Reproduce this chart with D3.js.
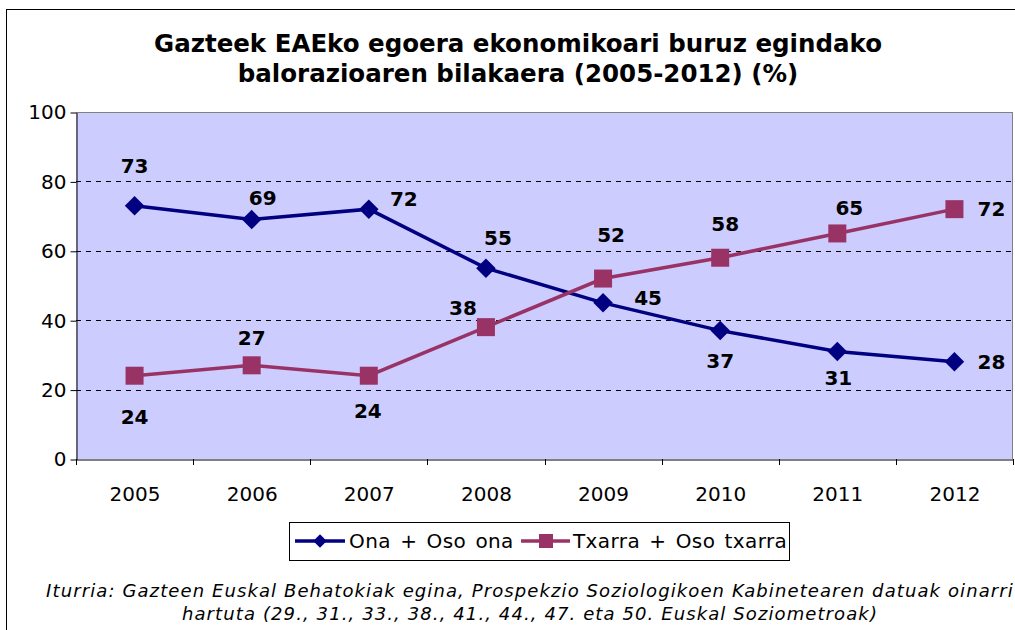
<!DOCTYPE html>
<html><head><meta charset="utf-8">
<script src="https://cdn.jsdelivr.net/npm/d3@7"></script>
<style>body{margin:0;background:#fff}svg{display:block}text{font-family:"DejaVu Sans",Verdana,sans-serif}</style>
</head><body><svg id="c" width="1015" height="630"></svg>
<script>
const years = ["2005","2006","2007","2008","2009","2010","2011","2012"];
const ona = [73,69,72,55,45,37,31,28];
const txarra = [24,27,24,38,52,58,65,72];
const yTicks = [0,20,40,60,80,100];
const seriesNames = ["Ona + Oso ona","Txarra + Oso txarra"];
const titleLines = ["Gazteek EAEko egoera ekonomikoari buruz egindako","balorazioaren bilakaera (2005-2012) (%)"];
const sourceLines = ["Iturria: Gazteen Euskal Behatokiak egina, Prospekzio Soziologikoen Kabinetearen datuak oinarri","hartuta (29., 31., 33., 38., 41., 44., 47. eta 50. Euskal Soziometroak)"];
// label offsets (px) relative to each point
const onaLabelOff = [[0,-40],[11,-22],[35,-10],[12,-30],[45,-5],[0,30],[1,27],[37,0]];
const txLabelOff = [[0,41],[0,-27],[-1,35],[-23,-19],[8,-44],[5,-34],[12,-25],[37,0]];

const svg = d3.select("#c");
const L=76,R=1013,T=112,B=459;
svg.append("rect").attr("x",6.5).attr("y",9.5).attr("width",1040).attr("height",700).attr("fill","#fff").attr("stroke","#000").attr("stroke-width",1);

const x = d3.scaleBand().domain(years).range([L,R]);
const y = d3.scaleLinear().domain([0,100]).range([B,T]);

svg.append("rect").attr("x",L).attr("y",T).attr("width",R-L).attr("height",B-T).attr("fill","#CCCCFF");
svg.append("g").selectAll("line").data(yTicks.filter(d=>d>0&&d<100)).join("line")
 .attr("x1",L).attr("x2",R).attr("y1",d=>Math.round(y(d))+0.5).attr("y2",d=>Math.round(y(d))+0.5)
 .attr("stroke","#000").attr("stroke-dasharray","5,5").attr("stroke-width",1);
svg.append("line").attr("x1",L).attr("x2",R).attr("y1",T+0.5).attr("y2",T+0.5).attr("stroke","#808080");
svg.append("line").attr("x1",R-0.5).attr("x2",R-0.5).attr("y1",T).attr("y2",B).attr("stroke","#808080");

const yAxis = d3.axisLeft(y).tickValues(yTicks).tickSize(6).tickSizeOuter(0).tickPadding(4);
const gy = svg.append("g").attr("transform",`translate(${L+0.5},0.5)`).call(yAxis);
gy.attr("font-size",null).attr("font-family",null);
gy.selectAll("text").attr("font-size",20).attr("fill","#000");
gy.select(".domain").attr("stroke","#000");
const gx = svg.append("g").attr("transform",`translate(0.5,${B+0.5})`).call(d3.axisBottom(x).tickSize(0).tickSizeOuter(0));
gx.attr("font-size",null).attr("font-family",null);
gx.selectAll("text").attr("font-size",20).attr("fill","#000").attr("y",41).attr("dy",null);
gx.select(".domain").attr("stroke","#000");
svg.append("g").selectAll("line").data(years.map(d=>x(d)).concat([R])).join("line")
 .attr("x1",d=>Math.round(d)+0.5).attr("x2",d=>Math.round(d)+0.5).attr("y1",B).attr("y2",B+6).attr("stroke","#000");

const cx = d=>x(d)+x.bandwidth()/2;
const line = d3.line().x((d,i)=>cx(years[i])).y(d=>y(d));
const colors = ["#000080","#993366"];
svg.append("path").datum(ona).attr("d",line).attr("fill","none").attr("stroke",colors[0]).attr("stroke-width",3.5);
svg.append("path").datum(txarra).attr("d",line).attr("fill","none").attr("stroke",colors[1]).attr("stroke-width",3.5);
svg.append("g").selectAll("path").data(ona).join("path")
 .attr("transform",(d,i)=>`translate(${cx(years[i])},${y(d)}) rotate(45)`)
 .attr("d",d3.symbol().type(d3.symbolSquare).size(190)).attr("fill",colors[0]);
svg.append("g").selectAll("rect").data(txarra).join("rect")
 .attr("x",(d,i)=>cx(years[i])-9).attr("y",d=>y(d)-9).attr("width",18).attr("height",18).attr("fill",colors[1]);

function labels(data, off){
 svg.append("g").selectAll("text").data(data).join("text")
  .attr("x",(d,i)=>cx(years[i])+off[i][0]).attr("y",(d,i)=>y(d)+off[i][1])
  .attr("text-anchor","middle").attr("dominant-baseline","central")
  .attr("font-size",20).attr("font-weight","bold").attr("fill","#000").text(d=>d);
}
labels(ona,onaLabelOff); labels(txarra,txLabelOff);

svg.append("g").selectAll("text").data(titleLines).join("text")
 .attr("x",518).attr("y",(d,i)=>52+i*30).attr("text-anchor","middle")
 .attr("font-size",24.5).attr("font-weight","bold").text(d=>d);

const lg = svg.append("g");
lg.append("rect").attr("x",289.5).attr("y",522.5).attr("width",500).attr("height",38).attr("fill","#fff").attr("stroke","#000");
const ly = 541;
lg.append("line").attr("x1",295).attr("x2",345).attr("y1",ly).attr("y2",ly).attr("stroke",colors[0]).attr("stroke-width",3.5);
lg.append("path").attr("transform",`translate(320,${ly}) rotate(45)`).attr("d",d3.symbol().type(d3.symbolSquare).size(90)).attr("fill",colors[0]);
lg.append("text").attr("x",349).attr("y",ly).attr("dominant-baseline","central").attr("font-size",20).attr("letter-spacing",0.4).attr("word-spacing",2.5).text(seriesNames[0]);
lg.append("line").attr("x1",521).attr("x2",570).attr("y1",ly).attr("y2",ly).attr("stroke",colors[1]).attr("stroke-width",3.5);
lg.append("rect").attr("x",539).attr("y",ly-7).attr("width",14).attr("height",14).attr("fill",colors[1]);
lg.append("text").attr("x",573).attr("y",ly).attr("dominant-baseline","central").attr("font-size",20).attr("letter-spacing",0.4).attr("word-spacing",2.5).text(seriesNames[1]);

svg.append("g").selectAll("text").data(sourceLines).join("text")
 .attr("x",530).attr("y",(d,i)=>597+i*23).attr("text-anchor","middle")
 .attr("font-size",18).attr("letter-spacing",1.1).attr("font-style","italic").text(d=>d);
</script></body></html>
